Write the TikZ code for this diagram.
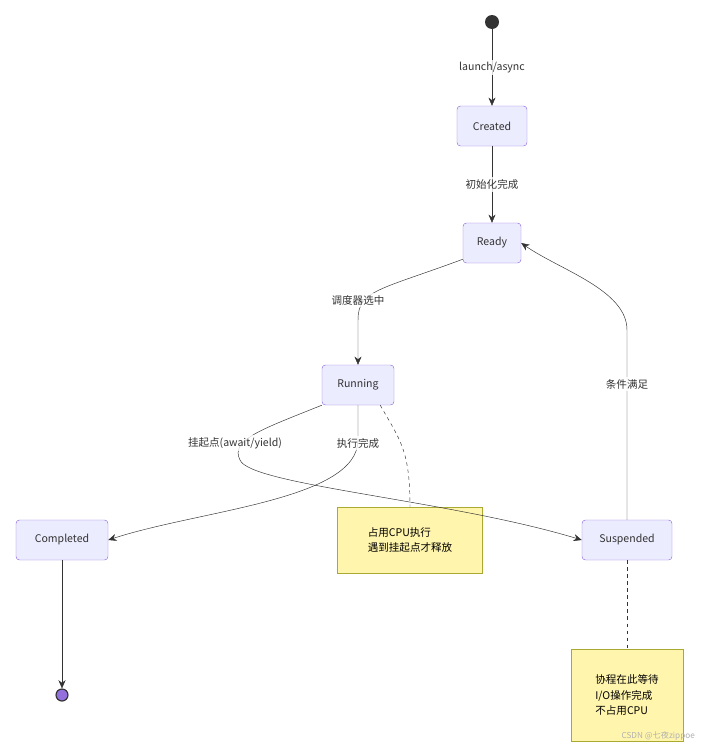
\documentclass[tikz,border=0pt]{standalone}
\usepackage{fontspec}
\setmainfont{Noto Sans CJK SC}
\usetikzlibrary{arrows.meta}

\definecolor{stfill}{HTML}{ECECFF}
\definecolor{stline}{HTML}{9370DB}
\definecolor{notefill}{HTML}{FFF5AD}
\definecolor{noteline}{HTML}{AAAA33}
\definecolor{ink}{HTML}{333333}

\tikzset{
  state/.style={draw=stline,fill=stfill,rounded corners=3pt,text=ink,
    minimum height=40*0.03cm,inner sep=3pt,font=\small},
  note/.style={draw=noteline,fill=notefill,text=black,align=left,
    inner sep=6pt,font=\small},
  elabel/.style={fill=white,fill opacity=0.8,text opacity=1,text=ink,
    inner sep=2pt,font=\small},
  trans/.style={draw=ink,-{Stealth[length=7pt,width=6pt]}},
  link/.style={draw=ink,dashed}
}

\begin{document}
\begin{tikzpicture}[x=0.03cm,y=-0.03cm]
\useasboundingbox (0,0) rectangle (701,749);

% states
\node[circle,fill=ink,inner sep=0pt,minimum size=14*0.03cm] (start) at (492,22) {};
\node[state,minimum width=70*0.03cm] (created) at (492,126) {Created};
\node[state,minimum width=58*0.03cm] (ready) at (492,243) {Ready};
\node[state,minimum width=72*0.03cm] (running) at (358,385) {Running};
\node[state,minimum width=92*0.03cm] (completed) at (62,540) {Completed};
\node[state,minimum width=90*0.03cm] (suspended) at (627,540) {Suspended};
\node[circle,draw=ink,line width=1pt,fill=stline,inner sep=0pt,minimum size=12*0.03cm] (stop) at (62,695) {};

% notes
\node[note,minimum width=145*0.03cm,minimum height=66*0.03cm] (noterun) at (410,540)
  {占用CPU执行\\[2pt]遇到挂起点才释放};
\node[note,minimum width=112*0.03cm,minimum height=92*0.03cm] (notesus) at (627,695)
  {协程在此等待\\[2pt]I/O操作完成\\[2pt]不占用CPU};

% transitions
\draw[trans] (start) -- node[elabel] {launch/async} (created);
\draw[trans] (created) -- node[elabel] {初始化完成} (ready);
\draw[trans] (ready.south west) ++(0,-4) coordinate (r1)
  (r1) .. controls (380,290) and (358,290) .. (358,320) -- (running.north);
\node[elabel] at (358,300) {调度器选中};
\draw[trans] (running.south west) .. controls (260,430) and (230,440) .. (240,460)
  .. controls (250,485) and (450,500) .. (suspended.west);
\node[elabel] at (235,443) {挂起点(await/yield)};
\draw[trans] (running.south) ++(0,0) -- (358,440)
  .. controls (358,500) and (200,510) .. (completed.east);
\node[elabel] at (358,443) {执行完成};
\draw[trans] (suspended.north) -- (627,330) .. controls (627,290) and (560,270) .. (ready.east);
\node[elabel] at (627,384) {条件满足};
\draw[trans] (completed) -- (stop);

% note links
\draw[link] (running.south east) ++(-14,0) coordinate (r2)
  (r2) .. controls (400,440) and (410,450) .. (noterun.north);
\draw[link] (suspended) -- (notesus);

\node[text=gray!60,font=\scriptsize,anchor=south east] at (699,745) {CSDN @七夜zippoe};
\end{tikzpicture}
\end{document}
